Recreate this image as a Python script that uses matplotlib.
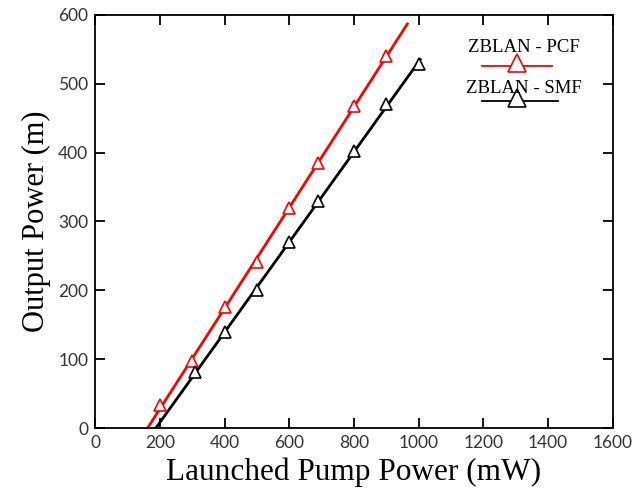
import numpy as np
import matplotlib
matplotlib.use("Agg")
import matplotlib.pyplot as plt

# Data
pcf_x = [200, 300, 400, 500, 600, 690, 800, 900]
pcf_y = [33, 97, 176, 241, 320, 385, 468, 541]
smf_x = [310, 400, 500, 600, 690, 800, 900, 1000]
smf_y = [81, 140, 200, 270, 330, 403, 470, 528]

# linear fit lines, drawn from threshold up to end
pcf_end = 965
smf_end = 1005

fig = plt.figure(figsize=(6.43, 4.96), dpi=100)
ax = fig.add_axes([0.148, 0.137, 0.805, 0.833])

serif = "Liberation Serif"
sans = "Lato"

def fit_line(x, y, x_end):
    k, b = np.polyfit(x, y, 1)
    x0 = -b / k
    xs = np.array([x0, x_end])
    return xs, k * xs + b

xs, ys = fit_line(pcf_x, pcf_y, pcf_end)
ax.plot(xs, ys, color="red", lw=2.0, zorder=2)
ax.plot(pcf_x, pcf_y, ls="none", marker="^", ms=9, mfc="white",
        mec="red", mew=1.2, zorder=3)

xs, ys = fit_line(smf_x, smf_y, smf_end)
ax.plot(xs, ys, color="black", lw=2.0, zorder=2)
ax.plot(smf_x, smf_y, ls="none", marker="^", ms=9, mfc="white",
        mec="black", mew=1.2, zorder=3)

ax.set_xlim(0, 1600)
ax.set_ylim(0, 600)
ax.set_xticks(np.arange(0, 1601, 200))
ax.set_yticks(np.arange(0, 601, 100))
ax.tick_params(direction="in", length=7, width=1.3, top=True, right=True,
               labelsize=12.5, pad=5)
for lab in ax.get_xticklabels() + ax.get_yticklabels():
    lab.set_fontfamily(sans)
    lab.set_color("#333333")
for sp in ax.spines.values():
    sp.set_linewidth(1.3)

ax.set_xlabel("Launched Pump Power (mW)", fontfamily=serif, fontsize=22.5, labelpad=5)
ax.set_ylabel("Output Power (m)", fontfamily=serif, fontsize=22, labelpad=5)

# hand-made legend: text above the line sample
ax.text(0.828, 0.920, "ZBLAN - PCF", transform=ax.transAxes, ha="center",
        va="center", fontfamily=serif, fontsize=13.5)
ax.plot([0.747, 0.882], [0.877, 0.877], transform=ax.transAxes, color="red", lw=1.3)
ax.plot([0.815], [0.883], transform=ax.transAxes, marker="^", ms=13,
        mfc="white", mec="red", mew=1.2)
ax.text(0.828, 0.823, "ZBLAN - SMF", transform=ax.transAxes, ha="center",
        va="center", fontfamily=serif, fontsize=13.5)
ax.plot([0.747, 0.894], [0.792, 0.792], transform=ax.transAxes, color="black", lw=1.3)
ax.plot([0.815], [0.798], transform=ax.transAxes, marker="^", ms=13,
        mfc="white", mec="black", mew=1.2)

fig.savefig("out.png", dpi=100)
